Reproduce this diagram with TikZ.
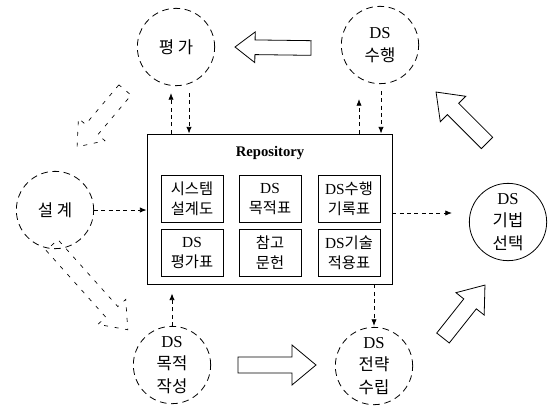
\documentclass[tikz,border=0pt]{standalone}
\usepackage{fontspec}
\setmainfont{Liberation Serif}
\newfontfamily\kr{Noto Sans CJK KR}
\usetikzlibrary{arrows.meta,calc}
\newcommand\blockarrow[6]{%
  \path let \p1=($(#3)-(#2)$), \n1={atan2(\y1,\x1)}, \n2={veclen(\x1,\y1)} in
    \pgfextra{\xdef\BAang{\n1}\xdef\BAlen{\n2}};
  \draw[#1, shift={(#2)}, rotate=\BAang]
    (0pt,-#4) -- ({\BAlen-#6},-#4) -- ({\BAlen-#6},-#5) -- (\BAlen,0pt)
    -- ({\BAlen-#6},#5) -- ({\BAlen-#6},#4) -- (0pt,#4) -- cycle;
}
\begin{document}
\begin{tikzpicture}[x=0.75pt,y=-0.75pt,
  circ/.style={circle, draw, dash pattern=on 5pt off 3.5pt, minimum size=58pt,
    inner sep=0pt, align=center, font=\fontsize{12.5}{17}\selectfont, line width=0.6pt},
  solidcirc/.style={circ, solid},
  doc/.style={draw, minimum width=46.5pt, minimum height=35pt, inner sep=0pt,
    align=center, font=\fontsize{11.5}{15}\selectfont, line width=0.7pt},
  dar/.style={dash pattern=on 3pt off 2.5pt, line width=0.6pt,
    -{Latex[length=5pt,width=4pt]}},
  barrow/.style={line width=0.6pt, line join=miter},
  dbarrow/.style={barrow, dash pattern=on 3pt off 5pt, line width=0.5pt},
]
\useasboundingbox (0,0) rectangle (548,407);

% circles
\node[circ] (pg) at (176,47) {\kr 평 가};
\node[circ] (sh) at (380,45) {DS\\{\kr 수행}};
\node[circ] (sg) at (55,210) {\kr 설 계};
\node[solidcirc] (gb) at (508,222) {DS\\{\kr 기법}\\{\kr 선택}};
\node[circ] (mj) at (172,365) {DS\\{\kr 목적}\\{\kr 작성}};
\node[circ] (jr) at (374,366) {DS\\{\kr 전략}\\{\kr 수립}};

% repository
\node[draw, line width=0.7pt, minimum width=183.75pt, minimum height=112.5pt, inner sep=0pt] (repo) at (269.5,209) {};
\node[font=\bfseries\fontsize{11}{13}\selectfont] (rt) at (270,153) {Repository};
\node[doc] (d1) at (192,199) {{\kr 시스템}\\{\kr 설계도}};
\node[doc] (d2) at (270,199) {DS\\{\kr 목적표}};
\node[doc] (d3) at (349,199) {DS{\kr 수행}\\{\kr 기록표}};
\node[doc] (d4) at (192,253) {DS\\{\kr 평가표}};
\node[doc] (d5) at (270,253) {{\kr 참고}\\{\kr 문헌}};
\node[doc] (d6) at (349,253) {DS{\kr 기술}\\{\kr 적용표}};

% dashed connectors
\draw[dar] ($(pg.center |- repo.north)+(-5,0)$) -- ($(pg.south)+(-5,7)$);
\draw[dar] ($(pg.south)+(13,7)$) -- ($(pg.center |- repo.north)+(13,0)$);
\draw[dar] ($(sh.center |- repo.north)+(-21,0)$) -- ($(sh.south)+(-21,15)$);
\draw[dar] ($(sh.south)+(1,7)$) -- ($(sh.center |- repo.north)+(1,0)$);
\draw[dar] (sg.east) -- (repo.west |- sg.east);
\draw[dar] (repo.east |- 0,213) -- ($(gb.west)+(-17,-9)$);
\draw[dar] (mj.north) -- ($(mj.center |- repo.south)+(0,9)$);
\draw[dar] (jr.north |- repo.south) -- ($(jr.north)+(0,-1)$);

% block arrows
\coordinate (a1t) at (311,48);  \coordinate (a1h) at (235,47);
\coordinate (a2t) at (125,90);  \coordinate (a2h) at (77,147);
\coordinate (a3t) at (52,245);  \coordinate (a3h) at (128,330);
\coordinate (a4t) at (238,365); \coordinate (a4h) at (316,365);
\coordinate (a5t) at (443,338); \coordinate (a5h) at (485,285);
\coordinate (a6t) at (487,143); \coordinate (a6h) at (436,92);
\blockarrow{barrow}{a1t}{a1h}{5.5pt}{11.5pt}{15pt}
\blockarrow{dbarrow}{a2t}{a2h}{6pt}{13pt}{17pt}
\blockarrow{dbarrow}{a3t}{a3h}{6pt}{14pt}{18pt}
\blockarrow{barrow}{a4t}{a4h}{6pt}{15pt}{18pt}
\blockarrow{barrow}{a5t}{a5h}{6pt}{13.5pt}{18pt}
\blockarrow{barrow}{a6t}{a6h}{6pt}{13.5pt}{18pt}
\end{tikzpicture}
\end{document}
